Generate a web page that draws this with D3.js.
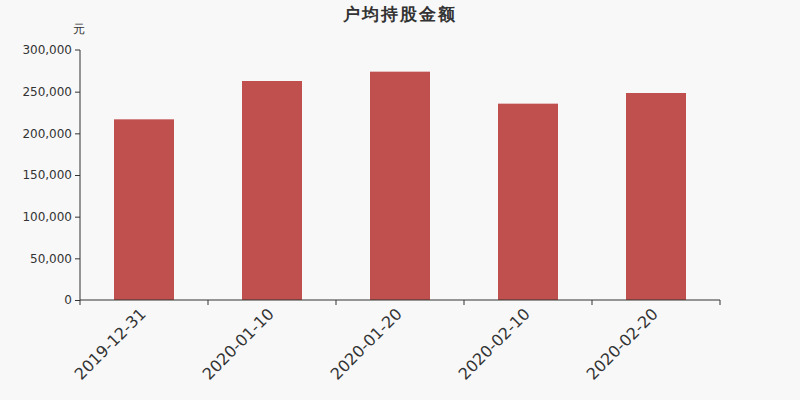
<!DOCTYPE html>
<html><head><meta charset="utf-8">
<script src="https://cdn.jsdelivr.net/npm/d3@7"></script>
<style>body{margin:0;background:#f8f8f8;}svg{display:block;font-family:"DejaVu Sans",sans-serif;}</style>
</head><body><svg id="c" width="800" height="400"></svg>
<script>
const categories = ["2019-12-31","2020-01-10","2020-01-20","2020-02-10","2020-02-20"];
const values = [216800, 262800, 274000, 235600, 248400];
const yTicks = [0, 50000, 100000, 150000, 200000, 250000, 300000];
const title = "户均持股金额";
const unit = "元";

const svg = d3.select("#c");
svg.append("rect").attr("width",800).attr("height",400).attr("fill","#f8f8f8");
const m = {l:80, r:80, t:50, b:100};
const W = 800, H = 400;
const x = d3.scaleBand().domain(categories).range([m.l, W-m.r]).paddingInner(0).paddingOuter(0);
const y = d3.scaleLinear().domain([0,300000]).range([H-m.b, m.t]);
const color = "#c0504e", ink = "#333";

svg.append("text").attr("x",400).attr("y",20).attr("text-anchor","middle")
  .attr("font-size",17).attr("font-weight","bold").attr("fill",ink)
  .attr("letter-spacing","2px").text(title);
svg.append("text").attr("x",79).attr("y",33).attr("text-anchor","middle")
  .attr("font-size",12).attr("fill",ink).text(unit);

const barW = 60;
svg.append("g").selectAll("rect").data(values).join("rect")
  .attr("x",(d,i)=>x(categories[i]) + x.bandwidth()/2 - barW/2)
  .attr("width",barW)
  .attr("y",d=>y(d)).attr("height",d=>y(0)-y(d))
  .attr("fill",color);

const ya = svg.append("g").attr("transform",`translate(${m.l},0)`)
  .call(d3.axisLeft(y).tickValues(yTicks).tickSize(5).tickPadding(3).tickFormat(d3.format(",")));
ya.selectAll("text").attr("font-size",12).attr("fill",ink).attr("font-family","DejaVu Sans");
ya.selectAll("line").attr("stroke",ink);
ya.select(".domain").attr("stroke",ink).attr("d",`M0,${y(300000)}H-5M0,${y(300000)}V${y(0)}`);
ya.selectAll(".tick").filter(d=>d===300000).select("line").remove();

const xa = svg.append("g").attr("transform",`translate(0,${y(0)})`);
xa.append("path").attr("d",`M${m.l},0H${W-m.r}`).attr("stroke",ink).attr("fill","none");
const edges = categories.map(c=>x(c)).concat([W-m.r]);
xa.selectAll("line").data(edges).join("line")
  .attr("x1",d=>d).attr("x2",d=>d).attr("y1",0).attr("y2",5).attr("stroke",ink);
xa.selectAll("text").data(categories).join("text")
  .attr("transform",c=>`translate(${x(c)+x.bandwidth()/2-1},${11}) rotate(-45)`)
  .attr("text-anchor","end").attr("dy","0.35em")
  .attr("font-size",16).attr("fill",ink).text(c=>c);
</script></body></html>
